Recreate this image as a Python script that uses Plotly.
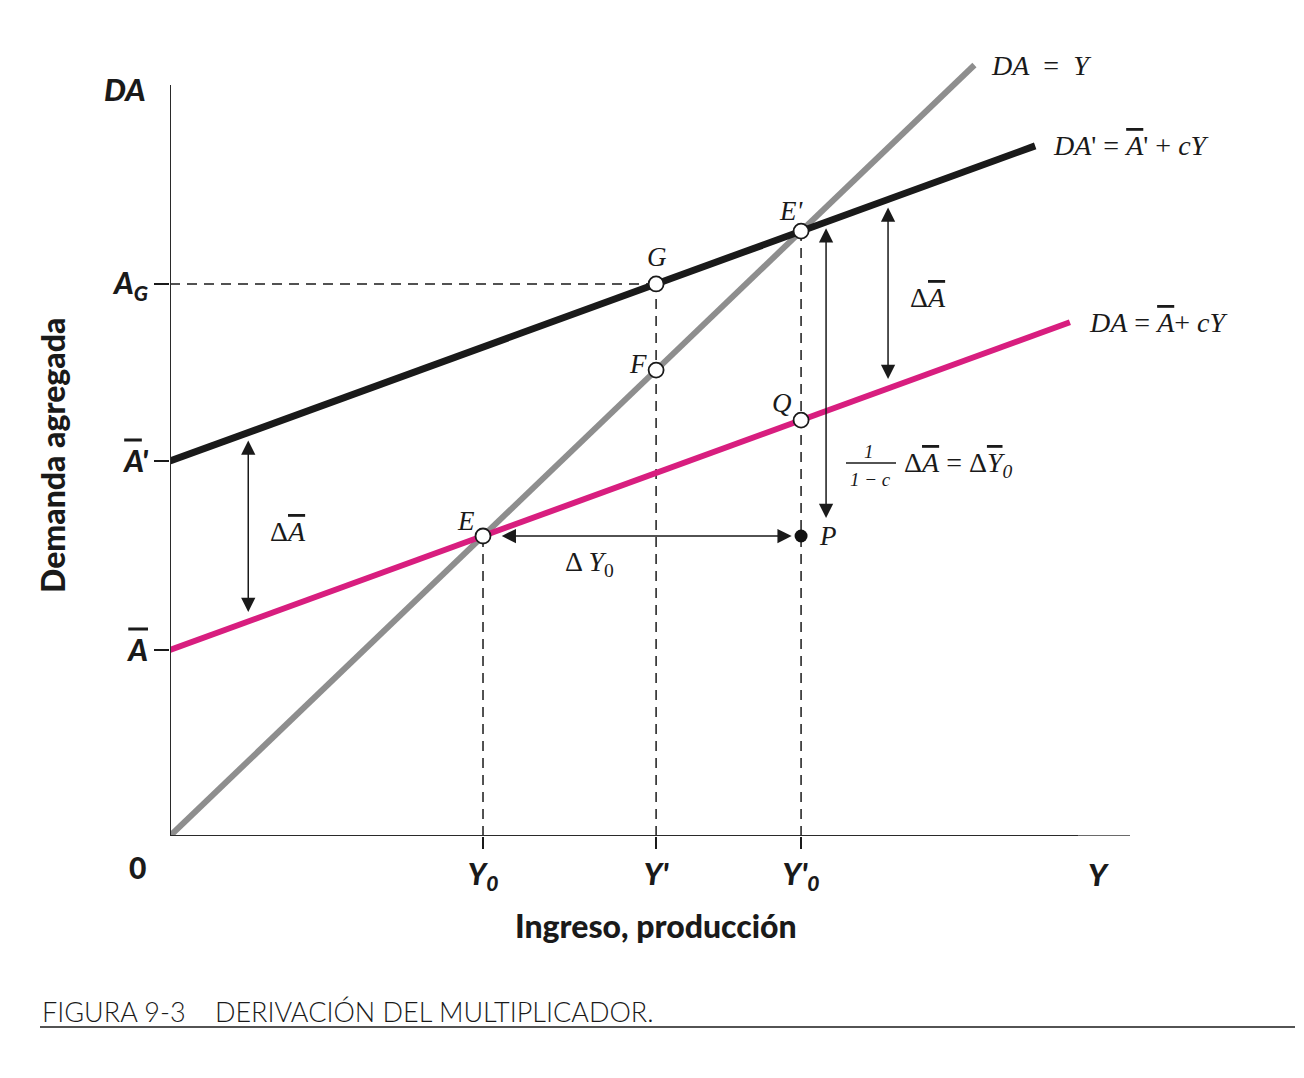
import plotly.graph_objects as go

# ---------------- data ----------------
A_BAR = 62.0          # autonomous spending, initial
A_BAR_PRIME = 125.0   # autonomous spending, after the increase
C = 0.38              # marginal propensity to consume
Y_PRIME = 155.3       # income level Y'

LINE_NAMES = ["DA = Y", "DA' = A' + cY", "DA = A + cY"]
LINE_INTERCEPTS = [0.0, A_BAR_PRIME, A_BAR]
LINE_SLOPES = [1.0, C, C]
LINE_X_END = [257.0, 276.4, 287.5]
LINE_COLORS = ["#8e8e8e", "#1a1a1a", "#d81e7f"]
LINE_WIDTHS = [6, 7, 6]

X_MAX = 306.7         # end of the horizontal axis
X_AXIS_DARK_END = 290.1
Y_AXIS_TOP = 250.3    # end of the vertical axis line
Y_MAX = 262.0         # top of the drawing area (room for DA = Y)

# derived equilibrium points
Y0 = A_BAR / (1 - C)
Y0P = A_BAR_PRIME / (1 - C)
A_G = A_BAR_PRIME + C * Y_PRIME

POINT_NAMES = ["E", "E'", "G", "F", "Q"]
POINT_X = [Y0, Y0P, Y_PRIME, Y_PRIME, Y0P]
POINT_Y = [Y0, Y0P, A_G, Y_PRIME, A_BAR + C * Y0P]
P_X, P_Y = Y0P, Y0

# ---------------- layout constants ----------------
OFF = 8                      # page body margin
W, H = 1304 - 2 * OFF, 1078 - 2 * OFF
PLOT_L, PLOT_R, PLOT_T, PLOT_B = 170, 1130, 50, 836   # screen pixels
ML, MR = PLOT_L - OFF, W - (PLOT_R - OFF)
MT, MB = PLOT_T - OFF, H - (PLOT_B - OFF)
PW, PH = PLOT_R - PLOT_L, PLOT_B - PLOT_T


def px(x):
    return (x - PLOT_L) / PW


def py(y):
    return (PLOT_B - y) / PH


SERIF = "Liberation Serif"
SANS = "Lato"
INK = "#1a1a1a"
OV = '<span style="text-decoration:overline">{}</span>'

fig = go.Figure()

# dashed guide lines
dash = "10px,7px"
guides = [
    ([Y0, Y0], [0, Y0]),
    ([Y_PRIME, Y_PRIME], [0, A_G]),
    ([Y0P, Y0P], [0, Y0P]),
    ([0, Y_PRIME], [A_G, A_G]),
]
for gx, gy in guides:
    fig.add_trace(go.Scatter(x=gx, y=gy, mode="lines",
                             line=dict(color=INK, width=1.5, dash=dash),
                             hoverinfo="skip", showlegend=False))

# the three lines
for name, b, m, xe, col, lw in zip(LINE_NAMES, LINE_INTERCEPTS, LINE_SLOPES,
                                   LINE_X_END, LINE_COLORS, LINE_WIDTHS):
    fig.add_trace(go.Scatter(x=[0, xe], y=[b, b + m * xe], mode="lines",
                             line=dict(color=col, width=lw), name=name,
                             hoverinfo="skip", showlegend=False))

# points
fig.add_trace(go.Scatter(x=POINT_X, y=POINT_Y, mode="markers",
                         marker=dict(size=15, color="white",
                                     line=dict(color=INK, width=1.8)),
                         hoverinfo="skip", showlegend=False))
fig.add_trace(go.Scatter(x=[P_X], y=[P_Y], mode="markers",
                         marker=dict(size=13, color="#111111"),
                         hoverinfo="skip", showlegend=False))

ann = []


def arrow(x0, y0, x1, y1):
    ann.append(dict(x=x1, y=y1, ax=x0, ay=y0, xref="x", yref="y", axref="x",
                    ayref="y", text="", showarrow=True, arrowhead=2,
                    arrowside="end+start", arrowsize=1.9, arrowwidth=1.5,
                    arrowcolor=INK, standoff=0, startstandoff=0))


ARROW_X_LEFT = 25.0
ARROW_X_RIGHT = 229.4
ARROW_X_MID = 209.6
GAP = 2.7
arrow(ARROW_X_LEFT, A_BAR + C * ARROW_X_LEFT + GAP,
      ARROW_X_LEFT, A_BAR_PRIME + C * ARROW_X_LEFT - GAP)
arrow(ARROW_X_RIGHT, A_BAR + C * ARROW_X_RIGHT + GAP,
      ARROW_X_RIGHT, A_BAR_PRIME + C * ARROW_X_RIGHT - GAP)
arrow(ARROW_X_MID, Y0 + 5.5, ARROW_X_MID, Y0P + 1.0)
arrow(Y0 + 5.5, Y0, Y0P - 3.0, Y0)

# point labels
POINT_LABEL_SHIFT = {"E": (-17, 15), "E'": (-10, 20), "G": (1, 27),
                     "F": (-18, 6), "Q": (-19, 17)}
for n, x, y in zip(POINT_NAMES, POINT_X, POINT_Y):
    dx, dy = POINT_LABEL_SHIFT[n]
    ann.append(dict(x=x, y=y, xref="x", yref="y", text=f"<i>{n}</i>",
                    showarrow=False, xshift=dx, yshift=dy,
                    font=dict(family=SERIF, size=27, color=INK)))
ann.append(dict(x=P_X, y=P_Y, xref="x", yref="y", text="<i>P</i>",
                showarrow=False, xshift=27, yshift=0,
                font=dict(family=SERIF, size=27, color=INK)))

# line labels
LINE_LABELS = ["<i>DA</i>  =  <i>Y</i>",
               "<i>DA</i>' = <i>" + OV.format("A") + "</i>' + <i>cY</i>",
               "<i>DA</i> = <i>" + OV.format("A") + "</i>+ <i>cY</i>"]
LABEL_DX = [15, 16, 17]
for lab, b, m, xe, dx in zip(LINE_LABELS, LINE_INTERCEPTS, LINE_SLOPES,
                             LINE_X_END, LABEL_DX):
    ann.append(dict(x=xe, y=b + m * xe, xref="x", yref="y", text=lab,
                    showarrow=False, xanchor="left", xshift=dx,
                    font=dict(family=SERIF, size=28, color=INK)))


def ptext(x, y, text, size, family, xanchor="center", angle=0, **font_kw):
    ann.append(dict(x=px(x), y=py(y), xref="paper", yref="paper", text=text,
                    showarrow=False, xanchor=xanchor, yanchor="middle",
                    textangle=angle,
                    font=dict(family=family, size=size, color=INK, **font_kw)))


DELTA_A = "Δ<i>" + OV.format("A") + "</i>"
ptext(288, 531, DELTA_A, 28, SERIF)
ptext(928, 297, DELTA_A, 28, SERIF)
ptext(589, 563, "Δ <i>Y</i><sub>0</sub>", 28, SERIF)
ptext(869, 451, "<i>1</i>", 19, SERIF)
ptext(870, 479, "<i>1 − c</i>", 19, SERIF)
ptext(902, 464, "Δ<i>" + OV.format("A") + "</i> = Δ<i>" + OV.format("Y")
      + "</i><sub><i>0</i></sub>", 28, SERIF, xanchor="left")

ptext(125, 89, "<i>DA</i>", 31, SANS, weight=900)
ptext(137, 867, "0", 30, SANS, weight=900)
ptext(1098, 874, "<i>Y</i>", 31, SANS, weight=900)
ptext(656, 925, "Ingreso, producción", 32, SANS, weight=900)
ptext(52, 456, "Demanda agregada", 32, SANS, angle=-90, weight=900)
ptext(40, 1011, "FIGURA 9-3\u00a0\u00a0\u00a0\u00a0DERIVACIÓN DEL MULTIPLICADOR.",
      27, SANS, xanchor="left", weight=300)

shapes = [
    # vertical axis line
    dict(type="line", xref="x", yref="y", x0=0, x1=0, y0=0, y1=Y_AXIS_TOP,
         line=dict(color="#2a2a2a", width=2)),
    # horizontal axis line (dark part, then lighter tail)
    dict(type="line", xref="x", yref="y", x0=0, x1=X_AXIS_DARK_END, y0=0, y1=0,
         line=dict(color="#2a2a2a", width=2)),
    dict(type="line", xref="x", yref="y", x0=X_AXIS_DARK_END, x1=X_MAX,
         y0=0, y1=0, line=dict(color="#6a6a6a", width=2)),
    # caption rule
    dict(type="line", xref="paper", yref="paper", x0=px(40), x1=px(1295),
         y0=py(1027), y1=py(1027), line=dict(color=INK, width=1.6)),
    # fraction bar
    dict(type="line", xref="paper", yref="paper", x0=px(846), x1=px(896),
         y0=py(463), y1=py(463), line=dict(color=INK, width=1.4)),
]

tickfont = dict(family=SANS, size=30, color=INK, weight=900, style="italic")
fig.update_layout(
    width=W, height=H,
    margin=dict(l=ML, r=MR, t=MT, b=MB),
    paper_bgcolor="white", plot_bgcolor="white",
    showlegend=False,
    annotations=ann, shapes=shapes,
    xaxis=dict(range=[0, X_MAX], showgrid=False, zeroline=False,
               showline=False,
               ticks="outside", ticklen=12, tickwidth=1.5, tickcolor=INK,
               tickvals=[Y0, Y_PRIME, Y0P],
               ticktext=["Y<sub>0</sub>", "Y'", "Y'<sub>0</sub>"],
               tickfont=tickfont, fixedrange=True),
    yaxis=dict(range=[0, Y_MAX], showgrid=False, zeroline=False,
               showline=False,
               ticks="outside", ticklen=15, tickwidth=1.5, tickcolor=INK,
               tickvals=[A_BAR, A_BAR_PRIME, A_G],
               ticktext=[OV.format("A"), OV.format("A") + "'", "A<sub>G</sub>"],
               tickfont=tickfont, fixedrange=True),
)

fig.write_html("out.html")
